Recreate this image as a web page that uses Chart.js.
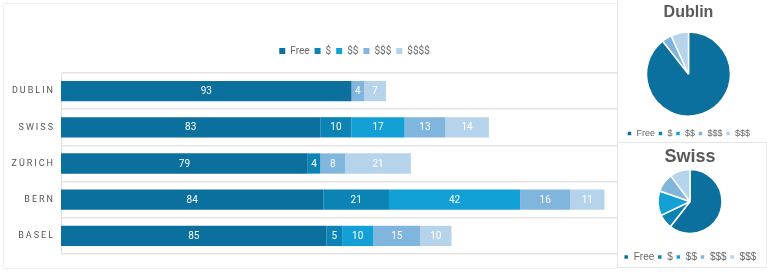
<!DOCTYPE html>
<html>
<head>
<meta charset="utf-8">
<script src="https://cdn.jsdelivr.net/npm/chart.js@4/dist/chart.umd.min.js"></script>
<style>
  body { margin: 0; width: 767px; height: 272px; background: #fff; position: relative; overflow: hidden; }
  #frame { position: absolute; left: 3px; top: 3px; width: 614px; height: 264px; border: 1px solid #f0f0f0; border-right: none; }
  #main { position: absolute; left: 0; top: 0; }
  #dubBox { position: absolute; left: 617px; top: 0; width: 149px; height: 142px; border-left: 1px solid #e6e6e6; border-bottom: 1px solid #e6e6e6; }
  #swiBox { position: absolute; left: 617px; top: 143px; width: 148px; height: 124px; border-left: 1px solid #e6e6e6; border-right: 1px solid #eee; border-bottom: 1px solid #e6e6e6; }
  #dublin { position: absolute; left: 614px; top: 0; }
  #swiss { position: absolute; left: 616px; top: 143px; }
</style>
</head>
<body>
<div id="frame"></div>
<div id="dubBox"></div>
<div id="swiBox"></div>
<canvas id="main" width="617" height="272"></canvas>
<canvas id="dublin" width="149" height="148"></canvas>
<canvas id="swiss" width="148" height="129"></canvas>
<script>
const cities = ['DUBLIN', 'SWISS', 'ZÜRICH', 'BERN', 'BASEL'];
const tiers = ['Free', '$', '$$', '$$$', '$$$$'];
const pieLabels = ['Free', '$', '$$', '$$$', '$$$'];
const colors = ['#0b709d', '#0c83b5', '#13a0d7', '#80b5dd', '#b6d3ec'];

const free = [93, 83, 79, 84, 85];
const one = [0, 10, 4, 21, 5];
const two = [0, 17, 0, 42, 10];
const three = [4, 13, 8, 16, 15];
const four = [7, 14, 21, 11, 10];

const dublinPie = [93, 0, 0, 4, 7];
const swissPie = [83, 10, 17, 13, 14];

// white numbers in the middle of each bar piece
const barLabels = {
    id: 'barLabels',
    afterDatasetsDraw(chart) {
        const ctx = chart.ctx;
        ctx.save();
        ctx.letterSpacing = '0px';
        ctx.font = '10px Roboto';
        ctx.fillStyle = '#fff';
        ctx.textAlign = 'center';
        ctx.textBaseline = 'middle';
        chart.data.datasets.forEach((ds, i) => {
            chart.getDatasetMeta(i).data.forEach((el, j) => {
                const v = ds.data[j];
                if (!v) return;
                ctx.fillText(v, (el.x + el.base) / 2, el.y + 0.5);
            });
        });
        ctx.restore();
        // spaced out city names, drawn after this (ticks z = 1)
        ctx.letterSpacing = '2px';
    },
    afterDraw(chart) {
        chart.ctx.letterSpacing = '0px';
    },
    afterLayout(chart) {
        // legend sits right of centre and a bit higher in the original
        chart.legend.left += 46;
        chart.legend.right += 46;
        chart.legend.top -= 7;
        chart.legend.bottom -= 7;
    }
};

const sets = [free, one, two, three, four].map((d, i) => ({
    label: tiers[i],
    data: d,
    backgroundColor: colors[i],
    borderWidth: 0,
    barPercentage: 1,
    categoryPercentage: 0.56
}));

new Chart(document.getElementById('main'), {
    type: 'bar',
    data: { labels: cities, datasets: sets },
    options: {
        indexAxis: 'y',
        responsive: false,
        animation: false,
        layout: { padding: { top: 48, bottom: 18, left: 0, right: 0 } },
        plugins: {
            legend: {
                position: 'top',
                labels: {
                    boxWidth: 6,
                    boxHeight: 6,
                    padding: 5,
                    color: '#666',
                    font: { family: 'Roboto', size: 10 }
                }
            },
            tooltip: { enabled: false }
        },
        scales: {
            x: { stacked: true, display: false, min: 0, max: 178 },
            y: {
                stacked: true,
                afterFit: (s) => { s.width = 61; },
                grid: { offset: true, color: '#e4e4e4', lineWidth: 1.5, drawTicks: false },
                border: { color: '#dcdcdc', width: 1 },
                ticks: { z: 1, padding: 6, color: '#555', font: { family: 'Roboto', size: 9 } }
            }
        }
    },
    plugins: [barLabels]
});

function pieChart(id, title, values, o) {
    return new Chart(document.getElementById(id), {
        type: 'pie',
        data: {
            labels: pieLabels,
            datasets: [{ data: values, backgroundColor: colors, borderColor: '#fff', borderWidth: 1.5, radius: o.radius }]
        },
        options: {
            responsive: false,
            animation: false,
            plugins: {
                title: {
                    display: true,
                    text: title,
                    color: '#595959',
                    font: { family: 'Liberation Sans', size: o.titleSize, weight: 'bold' },
                    padding: { top: 3, bottom: 0 }
                },
                legend: {
                    position: 'bottom',
                    title: { display: o.gap > 0, text: ' ', font: { size: 1 }, padding: { top: o.gap, bottom: 0 } },
                    labels: {
                        boxWidth: 5,
                        boxHeight: 5,
                        padding: 3,
                        color: '#666',
                        font: { family: 'Liberation Sans', size: o.legendSize }
                    }
                },
                tooltip: { enabled: false }
            }
        }
    });
}

pieChart('dublin', 'Dublin', dublinPie, { titleSize: 16, legendSize: 9, radius: 42, gap: 0 });
pieChart('swiss', 'Swiss', swissPie, { titleSize: 18, legendSize: 10, radius: 32, gap: 12.4 });
</script>
</body>
</html>
